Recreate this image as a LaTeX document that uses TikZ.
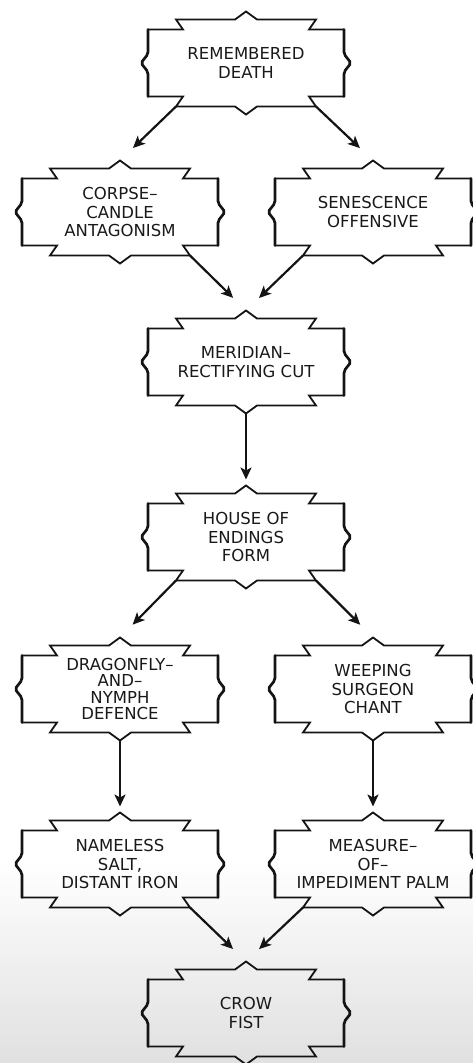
\documentclass[tikz,border=0pt]{standalone}
\usepackage{fontspec}
\setmainfont{DejaVu Sans}
\usetikzlibrary{arrows.meta,calc}
\tikzset{
  boxline/.style={line width=1.8pt, line join=miter, draw=black!92},
  braceline/.style={line width=2.7pt, line cap=round, rounded corners=2pt, draw=black!92},
  txt/.style={align=center, font=\fontsize{16.5}{18.5}\selectfont, text=black!90, inner sep=0pt},
  txtfour/.style={align=center, font=\fontsize{16.5}{16.5}\selectfont, text=black!90, inner sep=0pt},
  arr/.style={-{Stealth[length=12pt,width=11pt,inset=3pt]}, line width=2.2pt, draw=black!92, shorten >=18pt},
  varr/.style={-{Stealth[length=12pt,width=11pt,inset=3pt]}, line width=2.6pt, draw=black!92, shorten >=6pt},
}
\newcommand\fancyframe[1]{%
  \begin{scope}[shift={(#1.center)}]
    \draw[boxline] (-98,-33.5) -- (-63,-33.5) -- (-70,-43.5) -- (-11,-43.5) -- (0,-51.5) -- (11,-43.5) -- (70,-43.5) -- (63,-33.5) -- (98,-33.5);
    \draw[boxline] (-98,33.5) -- (-63,33.5) -- (-70,43.5) -- (-11,43.5) -- (0,51.5) -- (11,43.5) -- (70,43.5) -- (63,33.5) -- (98,33.5);
    \draw[braceline] (-98,-33.5) -- (-98,-9) -- (-105,0) -- (-98,9) -- (-98,33.5);
    \draw[braceline] (98,-33.5) -- (98,-9) -- (105,0) -- (98,9) -- (98,33.5);
    \coordinate (#1-n) at (0,-51.5);
    \coordinate (#1-s) at (0,51.5);
    \coordinate (#1-sw) at (-70,43.5);
    \coordinate (#1-se) at (70,43.5);
  \end{scope}}
\begin{document}
\begin{tikzpicture}[x=1pt,y=-1pt]
  \useasboundingbox (0,0) rectangle (473,1063);
  \shade[top color=white, bottom color=black!12] (0,860) rectangle (473,1063);

  \node[txt] (n1) at (246,63) {REMEMBERED\\DEATH};
  \node[txt] (n2) at (120,212) {CORPSE–\\CANDLE\\ANTAGONISM};
  \node[txt] (n3) at (373,212) {SENESCENCE\\OFFENSIVE};
  \node[txt] (n4) at (246,362) {MERIDIAN–\\RECTIFYING CUT};
  \node[txt] (n5) at (246,537) {HOUSE OF\\ENDINGS\\FORM};
  \node[txtfour] (n6) at (120,689) {DRAGONFLY–\\AND–\\NYMPH\\DEFENCE};
  \node[txt] (n7) at (373,689) {WEEPING\\SURGEON\\CHANT};
  \node[txt] (n8) at (120,864) {NAMELESS\\SALT,\\DISTANT IRON};
  \node[txt] (n9) at (373,864) {MEASURE–\\OF–\\IMPEDIMENT PALM};
  \node[txt] (n10) at (246,1013) {CROW\\FIST};

  \foreach \n in {n1,n2,n3,n4,n5,n6,n7,n8,n9,n10} {\fancyframe{\n}}

  \draw[arr] (n1-sw) -- (n2-n);
  \draw[arr] (n1-se) -- (n3-n);
  \draw[arr] (n2-se) -- (n4-n);
  \draw[arr] (n3-sw) -- (n4-n);
  \draw[varr] (n4-s) -- (n5-n);
  \draw[arr] (n5-sw) -- (n6-n);
  \draw[arr] (n5-se) -- (n7-n);
  \draw[varr] (n6-s) -- (n8-n);
  \draw[varr] (n7-s) -- (n9-n);
  \draw[arr] (n8-se) -- (n10-n);
  \draw[arr] (n9-sw) -- (n10-n);
\end{tikzpicture}
\end{document}
